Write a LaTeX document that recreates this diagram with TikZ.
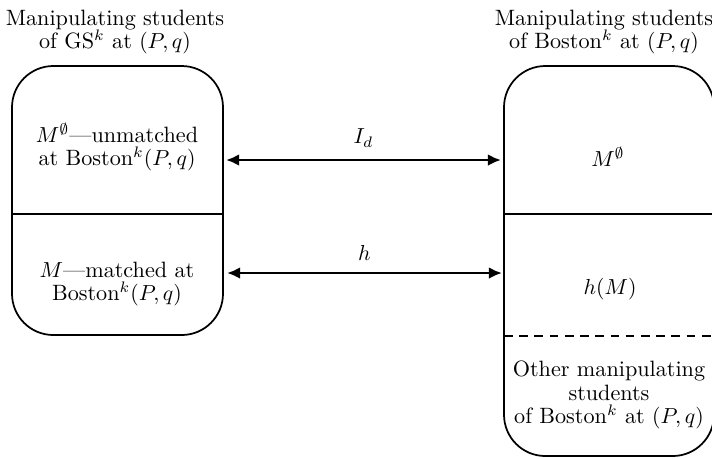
\documentclass[tikz,border=0pt]{standalone}
\usetikzlibrary{arrows.meta}
\tikzset{
  setbox/.style={thick,rounded corners=19pt},
  lbl/.style={align=center,font=\fontsize{10.2}{10.8}\selectfont},
  pair/.style={line width=1.3pt,{Latex[length=6pt,width=5.4pt]}-{Latex[length=6pt,width=5.4pt]}}
}
\begin{document}
\begin{tikzpicture}[x=0.46pt,y=-0.46pt]
  \useasboundingbox (0,0) rectangle (712,458);
  % left set
  \draw[setbox] (12,66) rectangle (223,335);
  \draw[thick] (12,214) -- (223,214);
  % right set
  \draw[setbox] (504,66) rectangle (714,456);
  \draw[thick] (504,214) -- (714,214);
  \draw[thick,dash pattern=on 4pt off 3pt] (504,336) -- (714,336);

  \node[lbl] (gsTitle) at (115,32) {Manipulating students\\of GS$^k$ at $(P,q)$};
  \node[lbl] (bosTitle) at (604,32) {Manipulating students\\of Boston$^k$ at $(P,q)$};
  \node[lbl] (gsUn) at (117,147) {$M^\emptyset$---unmatched\\at Boston$^k(P,q)$};
  \node[lbl] (gsMa) at (117,284) {$M$---matched at\\Boston$^k(P,q)$};
  \node[lbl] (bosUn) at (608,157) {$M^\emptyset$};
  \node[lbl] (bosMa) at (610,289) {$h(M)$};
  \node[lbl] (bosOther) at (609,395) {Other manipulating\\students\\of Boston$^k$ at $(P,q)$};

  \coordinate (gsA) at (226,160);
  \coordinate (bosA) at (501,160);
  \coordinate (gsB) at (227,273);
  \coordinate (bosB) at (502,273);
  \draw[pair] (gsA) -- node[above=2pt]{$I_d$} (bosA);
  \draw[pair] (gsB) -- node[above=2pt]{$h$} (bosB);
\end{tikzpicture}
\end{document}
